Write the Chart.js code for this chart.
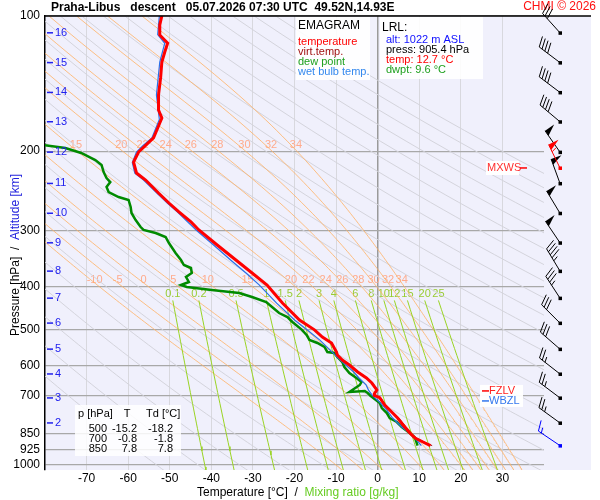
<!DOCTYPE html>
<html>
<head>
<meta charset="utf-8">
<script src="https://cdn.jsdelivr.net/npm/chart.js@4"></script>
<style>
  body { margin: 0; background: #fff; }
  canvas { display: block; }
</style>
</head>
<body>
<canvas id="emagram" width="600" height="500"></canvas>
<script>
// axis ticks
const pressureTicks = [100, 200, 300, 400, 500, 600, 700, 850, 925, 1000];
const tempTicks = [-70, -60, -50, -40, -30, -20, -10, 0, 10, 20, 30];

// altitude marks (km) and the pressure where they sit
const altKm = [16, 15, 14, 13, 12, 11, 10, 9, 8, 7, 6, 5, 4, 3, 2];
const altP = [109, 127, 148, 172, 201, 236, 275, 320, 370, 425, 483, 552, 627, 709, 806];

// temperature profile
const tempP = [100, 104.7, 110.2, 114.9, 120.3, 126.6, 137.4, 149.9, 161.9, 168.7, 177.6, 186.9, 194.8, 200.9, 211.5,
  223.7, 231.9, 247.9, 260.9, 273.2, 287.5, 299.6, 323.6, 349.5, 373.6, 397.3, 435.7, 475.5, 500, 518.7, 534.9,
  560.2, 568.9, 583.7, 598.9, 620.7, 640.1, 656.8, 680.7, 691.3, 700, 708, 735.2, 754.3, 785.9, 823, 850, 870.8,
  888.8, 905.4];
const tempT = [-51.9, -52.4, -52.4, -50.5, -51.2, -51.9, -52.2, -52.7, -52.7, -51.9, -52.9, -53.9, -56.0, -57.5, -58.7,
  -58.0, -55.8, -52.7, -50.2, -47.8, -44.9, -43.0, -38.6, -34.1, -30.2, -26.6, -22.9, -18.8, -15.2, -13.3, -11.1,
  -9.9, -9.7, -8.5, -6.8, -4.8, -2.7, -1.4, -0.2, -0.7, -0.8, 0.5, 1.7, 2.9, 4.8, 6.5, 7.8, 9.0,
  10.9, 12.7];

// virtual temperature (lies under the temperature line), same levels as tempP
const virtT = [-51.9, -52.4, -52.4, -50.5, -51.2, -51.9, -52.2, -52.7, -52.7, -51.9, -52.9, -53.9, -56.0, -57.5, -58.7,
  -58.0, -55.8, -52.7, -50.2, -47.8, -44.9, -43.0, -38.6, -34.1, -30.2, -26.6, -22.8, -18.7, -15.1, -13.2, -11.0,
  -9.8, -9.6, -8.4, -6.7, -4.6, -2.5, -1.2, 0.0, -0.5, -0.6, 0.7, 1.9, 3.1, 5.1, 6.8, 8.1, 9.3,
  11.2, 13.1];

// dew point profile
const dewP = [193.2, 196.8, 201.9, 209.3, 214.7, 222.6, 229.5, 234.3, 240.3, 246.6, 253.0, 256.9, 266.3, 274.6, 284.7,
  295.1, 299.6, 304.3, 310.6, 320.3, 337.2, 349.5, 358.6, 364.1, 373.6, 381.3, 391.2, 397.3, 401.4, 407.6, 413.9,
  422.5, 433.5, 444.8, 458.7, 468.2, 480.3, 500, 513.4, 526.7, 534.9, 546.0, 560.2, 563.1, 574.8, 589.7, 605.0,
  623.9, 640.1, 653.4, 663.5, 687.8, 684.3, 691.3, 700, 727.7, 746.6, 766.0, 785.9, 802.2, 823.0, 850, 870.8, 905.4];
const dewT = [-81.5, -75.1, -71.3, -67.9, -66.4, -65.9, -65.2, -64.3, -65.2, -64.7, -62.3, -59.9, -59.4, -59.2, -58.2,
  -57.0, -56.3, -53.4, -51.0, -50.2, -48.6, -47.3, -46.6, -44.9, -44.7, -46.1, -45.4, -47.3, -45.9, -39.9, -33.3,
  -30.2, -26.8, -25.4, -23.7, -21.7, -20.5, -18.2, -17.1, -16.4, -14.5, -12.8, -12.1, -10.4, -9.7, -8.5, -8.0,
  -6.8, -5.1, -3.9, -4.3, -6.8, -3.1, -2.4, -1.8, 0.5, 1.0, 2.2, 2.9, 4.6, 5.8, 7.8, 9.0, 9.6];

// wet bulb temperature profile
const wetP = [100, 110, 115, 126.6, 150, 170, 187, 195, 201, 212, 224, 232, 248, 261, 273, 300, 324, 350, 374, 397,
  436, 476, 500, 527, 560, 584, 620, 640, 663, 681, 700, 728, 755, 786, 823, 850, 871, 905.4];
const wetT = [-52.5, -52.9, -51.2, -52.4, -53.2, -52.5, -54.3, -56.6, -58.0, -59.0, -58.4, -56.3, -53.1, -50.6, -48.2,
  -43.6, -39.4, -35.3, -31.6, -28.5, -24.3, -19.9, -17.0, -13.9, -11.0, -9.0, -5.8, -4.5, -2.8, -2.2, -1.3, 0.7,
  2.2, 3.6, 5.8, 7.8, 9.0, 10.5];

// wind barbs at the altitude marks
const windP = altP;
const windDir = [318, 307, 307, 310, 325, 340, 329, 326, 329, 327, 315, 311, 308, 307, 306];
const windSpd = [30, 40, 40, 40, 50, 50, 50, 50, 45, 35, 30, 30, 25, 25, 25];
// max wind and launch level wind
const mxwsP = 218, mxwsDir = 334, mxwsSpd = 55;
const lrlP = 905.4, lrlDir = 304, lrlSpd = 15;
const fzlvP = 684, wbzlP = 720;

// summary table
const tableP = [500, 700, 850];
const tableT = [-15.2, -0.8, 7.8];
const tableTd = [-18.2, -1.8, 7.8];

// diagram lines
const dryTheta = [220, 230, 240, 250, 260, 270, 280, 290, 300, 310, 320, 330, 340, 350, 360, 370, 380, 390, 400,
  410, 420, 430, 440, 450, 460, 470, 480];
const moistThetaW = [-10, -5, 0, 5, 10, 15, 20, 22, 24, 26, 28, 30, 32, 34];
const moistUpperLabels = [15, 20, 22, 24, 26, 28, 30, 32, 34];
const mixRatio = [0.1, 0.2, 0.5, 1, 1.5, 2, 3, 4, 6, 8, 10, 12, 15, 20, 25];

const FONT = "'Liberation Sans', Arial, sans-serif";

function pairs(ps, ts) {
  return ps.map((p, i) => ({ x: ts[i], y: p }));
}

function satMix(p, Tk) {
  const Tc = Tk - 273.15;
  const es = 6.112 * Math.exp(17.67 * Tc / (Tc + 243.5));
  return 0.622 * es / (p - es);
}

function moistRate(p, Tk) {
  const rs = satMix(p, Tk);
  const Rd = 287.04, cp = 1005.7, L = 2.501e6;
  return (Rd * Tk + L * rs) / (p * (cp + (L * L * rs * 0.622) / (Rd * Tk * Tk)));
}

function moistLine(tw) {
  const up = [], down = [];
  let T = tw + 273.15, p = 1000;
  for (let i = 0; p > 100; i++) {
    if (i % 5 === 0) up.push({ x: T - 273.15, y: p });
    const dp = -1;
    const k1 = moistRate(p, T);
    const k2 = moistRate(p + dp / 2, T + k1 * dp / 2);
    T += k2 * dp; p += dp;
  }
  up.push({ x: T - 273.15, y: p });
  T = tw + 273.15; p = 1000;
  while (p < 1030) {
    const dp = 2;
    T += moistRate(p, T) * dp; p += dp;
    down.push({ x: T - 273.15, y: p });
  }
  return down.reverse().concat(up);
}

function dryLine(theta) {
  const pts = [];
  for (let p = 100; p <= 1030; p += 10) pts.push({ x: theta * Math.pow(p / 1000, 0.2857) - 273.15, y: p });
  return pts;
}

function mixDew(p, r) {
  const e = p * r / (622 + r);
  const a = Math.log(e / 6.112);
  return 243.5 * a / (17.67 - a);
}

function mixLine(r) {
  const pts = [];
  for (let p = 430; p <= 1030; p += 20) pts.push({ x: mixDew(p, r), y: p });
  return pts;
}

function xAt(pts, p) {
  for (let i = 1; i < pts.length; i++) {
    const a = pts[i - 1], b = pts[i];
    if ((a.y - p) * (b.y - p) <= 0) {
      const f = (p - a.y) / (b.y - a.y);
      return a.x + f * (b.x - a.x);
    }
  }
  return null;
}

const moistLines = moistThetaW.map(moistLine);

function lineSet(data, color, width) {
  return { data, showLine: true, borderColor: color, borderWidth: width, pointRadius: 0, tension: 0, fill: false };
}

// first dataset is drawn on top
const datasets = [
  lineSet(pairs(tempP, tempT), '#ff0000', 3),
  lineSet(pairs(tempP, virtT), '#a00000', 1),
  lineSet(pairs(wetP, wetT), '#2a6fe8', 1.2),
  lineSet(pairs(dewP, dewT), '#008a00', 2.5),
];
mixRatio.forEach(r => datasets.push(lineSet(mixLine(r), '#9ad424', 1)));
moistLines.forEach(l => datasets.push(lineSet(l, 'rgba(255,178,100,0.8)', 1)));
dryTheta.forEach(t => datasets.push(lineSet(dryLine(t), '#d4d4dc', 1)));

function drawBarb(ctx, x, y, dir, spd, color) {
  const rad = dir * Math.PI / 180;
  const ux = Math.sin(rad), uy = -Math.cos(rad);
  const px = -uy, py = ux;
  const bx = px * 0.94 + ux * 0.34, by = py * 0.94 + uy * 0.34;
  const L = 26, bl = 11, sp = 3.5;
  const ex = x + ux * L, ey = y + uy * L;
  ctx.strokeStyle = color; ctx.fillStyle = color; ctx.lineWidth = 1;
  ctx.beginPath(); ctx.moveTo(x, y); ctx.lineTo(ex, ey); ctx.stroke();
  ctx.fillRect(x - 1.5, y - 1.5, 3.5, 3.5);
  let rem = Math.round(spd / 5) * 5, s = 0;
  while (rem >= 50) {
    const ax = ex - ux * s, ay = ey - uy * s;
    ctx.beginPath();
    ctx.moveTo(ax, ay); ctx.lineTo(ax + px * bl, ay + py * bl); ctx.lineTo(ax - ux * 6, ay - uy * 6);
    ctx.closePath(); ctx.fill();
    s += 8; rem -= 50;
  }
  while (rem >= 10) {
    const ax = ex - ux * s, ay = ey - uy * s;
    ctx.beginPath(); ctx.moveTo(ax, ay); ctx.lineTo(ax + bx * bl, ay + by * bl); ctx.stroke();
    s += sp; rem -= 10;
  }
  if (rem >= 5) {
    if (s === 0) s = sp;
    const ax = ex - ux * s, ay = ey - uy * s;
    ctx.beginPath(); ctx.moveTo(ax, ay); ctx.lineTo(ax + bx * bl / 2, ay + by * bl / 2); ctx.stroke();
  }
}

function text(ctx, str, x, y, color, size, align, bold) {
  ctx.font = (bold ? 'bold ' : '') + size + 'px ' + FONT;
  ctx.fillStyle = color;
  ctx.textAlign = align || 'left';
  ctx.textBaseline = 'middle';
  ctx.fillText(str, x, y);
}

const emagramPlugin = {
  id: 'emagram',
  beforeDraw(chart) {
    const { ctx, chartArea: a } = chart;
    ctx.save();
    ctx.fillStyle = '#f0f0fc';
    ctx.fillRect(a.left, a.top, 591 - a.left, a.bottom - a.top);
    ctx.restore();
  },
  beforeDatasetsDraw(chart) {
    const { ctx, chartArea: a } = chart;
    const xs = chart.scales.x, ys = chart.scales.y;
    ctx.save();
    ctx.beginPath(); ctx.rect(a.left, a.top, a.right - a.left, a.bottom - a.top); ctx.clip();
    // pseudo-adiabat labels
    moistThetaW.forEach((tw, i) => {
      const lx = xAt(moistLines[i], 393);
      if (lx !== null) text(ctx, String(tw), xs.getPixelForValue(lx), ys.getPixelForValue(387), '#ffab8c', 11, 'center');
      if (moistUpperLabels.includes(tw)) {
        const ux = xAt(moistLines[i], 199);
        if (ux !== null) text(ctx, String(tw), xs.getPixelForValue(ux), ys.getPixelForValue(194), '#ffab8c', 11, 'center');
      }
    });
    // mixing ratio labels
    mixRatio.forEach(r => {
      text(ctx, String(r), xs.getPixelForValue(mixDew(430, r)), ys.getPixelForValue(416), '#99cc33', 11, 'center');
    });
    ctx.restore();
  },
  afterDraw(chart) {
    const { ctx, chartArea: a } = chart;
    const ys = chart.scales.y;
    ctx.save();

    // top frame line
    ctx.strokeStyle = '#000'; ctx.lineWidth = 1.5;
    ctx.beginPath(); ctx.moveTo(a.left, a.top); ctx.lineTo(591, a.top); ctx.stroke();

    // title
    text(ctx, 'Praha-Libus   descent   05.07.2026 07:30 UTC  49.52N,14.93E', 51, 8, '#000', 12, 'left', true);
    text(ctx, 'CHMI \u00a9 2026', 596, 7, '#ff1010', 12, 'right');

    // altitude marks
    ctx.strokeStyle = '#2020ee'; ctx.lineWidth = 1.5;
    altKm.forEach((km, i) => {
      const y = ys.getPixelForValue(altP[i]);
      ctx.beginPath(); ctx.moveTo(a.left + 2, y); ctx.lineTo(a.left + 8, y); ctx.stroke();
      text(ctx, String(km), a.left + 10, y, '#2020ee', 11, 'left');
    });

    // wind barbs
    windP.forEach((p, i) => drawBarb(ctx, 560, ys.getPixelForValue(p), windDir[i], windSpd[i], '#000'));
    drawBarb(ctx, 560, ys.getPixelForValue(mxwsP), mxwsDir, mxwsSpd, '#ff0000');
    drawBarb(ctx, 560, ys.getPixelForValue(lrlP), lrlDir, lrlSpd, '#0000ff');

    // MXWS mark
    const my = ys.getPixelForValue(mxwsP);
    ctx.fillStyle = '#fff'; ctx.fillRect(486, my - 7, 33, 14);
    text(ctx, 'MXWS', 487, my, '#ff3030', 11, 'left');
    ctx.strokeStyle = '#ff0000'; ctx.lineWidth = 1.5;
    ctx.beginPath(); ctx.moveTo(520, my); ctx.lineTo(527, my); ctx.stroke();

    // freezing levels
    const fy = ys.getPixelForValue(fzlvP), wy = ys.getPixelForValue(wbzlP);
    ctx.fillStyle = 'rgba(255,255,255,0.95)'; ctx.fillRect(480, fy - 6, 43, wy - fy + 12);
    ctx.strokeStyle = '#ff0000'; ctx.beginPath(); ctx.moveTo(482, fy); ctx.lineTo(489, fy); ctx.stroke();
    text(ctx, 'FZLV', 489, fy, '#ff2020', 11, 'left');
    ctx.strokeStyle = '#3377ee'; ctx.beginPath(); ctx.moveTo(482, wy); ctx.lineTo(489, wy); ctx.stroke();
    text(ctx, 'WBZL', 489, wy, '#3377ee', 11, 'left');

    // legend box
    ctx.fillStyle = 'rgba(255,255,255,0.88)'; ctx.fillRect(296, a.top + 1, 74, 63);
    text(ctx, 'EMAGRAM', 298, 26, '#000', 12, 'left');
    text(ctx, 'temperature', 298, 42, '#ff0000', 11, 'left');
    text(ctx, 'virt.temp.', 298, 52, '#a01010', 11, 'left');
    text(ctx, 'dew point', 298, 62, '#1ea01e', 11, 'left');
    text(ctx, 'wet bulb temp.', 298, 72, '#3388ee', 11, 'left');

    // launch level box
    ctx.fillStyle = 'rgba(255,255,255,0.88)'; ctx.fillRect(380, a.top + 1, 103, 62);
    text(ctx, 'LRL:', 382, 28, '#000', 12, 'left');
    text(ctx, 'alt: 1022 m ASL', 386, 40, '#1010ff', 11, 'left');
    text(ctx, 'press: ' + lrlP.toFixed(1) + ' hPa', 386, 50, '#000', 11, 'left');
    text(ctx, 'temp: ' + tempT[tempT.length - 1].toFixed(1) + ' \u00b0C', 386, 60, '#ff0000', 11, 'left');
    text(ctx, 'dwpt: ' + dewT[dewT.length - 1].toFixed(1) + ' \u00b0C', 386, 70, '#1ea01e', 11, 'left');

    // summary table
    ctx.fillStyle = 'rgba(255,255,255,0.85)'; ctx.fillRect(75, 405, 106, 51);
    text(ctx, 'p [hPa]', 78, 414, '#000', 11, 'left');
    text(ctx, 'T', 127, 414, '#000', 11, 'center');
    text(ctx, 'Td [\u00b0C]', 146, 414, '#000', 11, 'left');
    tableP.forEach((p, i) => {
      const y = 428.5 + i * 10;
      text(ctx, String(p), 107, y, '#000', 11, 'right');
      text(ctx, tableT[i].toFixed(1), 137, y, '#000', 11, 'right');
      text(ctx, tableTd[i].toFixed(1), 173, y, '#000', 11, 'right');
    });

    // axis titles
    ctx.font = '12px ' + FONT;
    const t1 = 'Temperature [\u00b0C]  /  ';
    text(ctx, t1, 197, 493, '#000', 12, 'left');
    text(ctx, 'Mixing ratio [g/kg]', 197 + ctx.measureText(t1).width, 493, '#66cc22', 12, 'left');

    ctx.save();
    ctx.translate(16, 336);
    ctx.rotate(-Math.PI / 2);
    ctx.font = '12px ' + FONT;
    const y1 = 'Pressure [hPa]  /  ';
    text(ctx, y1, 0, 0, '#000', 12, 'left');
    text(ctx, 'Altitude [km]', ctx.measureText(y1).width, 0, '#2222dd', 12, 'left');
    ctx.restore();

    ctx.restore();
  }
};

const tickFont = { family: FONT, size: 12 };

new Chart(document.getElementById('emagram').getContext('2d'), {
  type: 'scatter',
  data: { datasets },
  options: {
    responsive: false,
    animation: false,
    devicePixelRatio: 1,
    layout: { padding: { top: 16, right: 56, left: 0, bottom: 0 } },
    plugins: { legend: { display: false }, tooltip: { enabled: false } },
    scales: {
      x: {
        type: 'linear', min: -80, max: 40,
        afterBuildTicks: s => { s.ticks = [-80, ...tempTicks, 40].map(v => ({ value: v })); },
        afterFit: s => { s.height = 30; },
        ticks: {
          callback: v => tempTicks.includes(v) ? String(v) : '',
          font: tickFont, color: '#000', padding: 1, maxRotation: 0, autoSkip: false
        },
        grid: {
          color: c => c.tick.value === 0 ? '#9a9a9a' : (tempTicks.includes(c.tick.value) ? '#d8d8de' : 'rgba(0,0,0,0)'),
          lineWidth: c => c.tick.value === 0 ? 1.5 : 1,
          drawTicks: false
        },
        border: { display: false }
      },
      y: {
        type: 'logarithmic', reverse: true, min: 100, max: 1026,
        afterBuildTicks: s => { s.ticks = pressureTicks.map(v => ({ value: v })); },
        afterFit: s => { s.width = 45; },
        ticks: { callback: v => String(v), font: tickFont, color: '#000', padding: 5, autoSkip: false },
        grid: { color: '#a8a8a8', lineWidth: 1.3, drawTicks: false },
        border: { display: true, color: '#000', width: 1.5 }
      }
    }
  },
  plugins: [emagramPlugin]
});
</script>
</body>
</html>
